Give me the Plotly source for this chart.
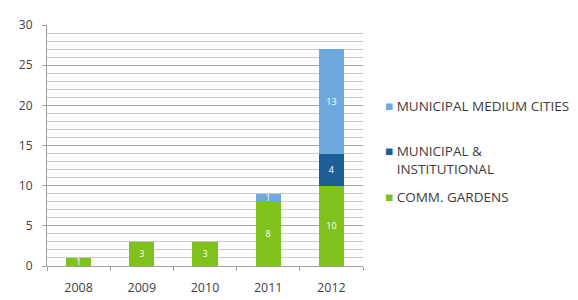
import plotly.graph_objects as go

years = ["2008", "2009", "2010", "2011", "2012"]
comm_gardens = [1, 3, 3, 8, 10]
municipal_institutional = [0, 0, 0, 0, 4]
municipal_medium = [0, 0, 0, 1, 13]

names = ["COMM. GARDENS", "MUNICIPAL &<br>INSTITUTIONAL", "MUNICIPAL MEDIUM CITIES"]
colors = ["#80C21C", "#1D5E98", "#6EA9DE"]
series = [comm_gardens, municipal_institutional, municipal_medium]
legend_ids = ["legend3", "legend2", "legend"]

fig = go.Figure()
for n, c, v in zip(names, colors, series):
    fig.add_trace(go.Bar(
        x=years, y=v, name=n.replace("<br>", " "),
        marker=dict(color=c, line=dict(width=0)),
        text=[str(x) if x > 0 else "" for x in v],
        textposition="inside", insidetextanchor="middle", textangle=0,
        textfont=dict(color="white", size=9, family="Open Sans"),
        showlegend=False,
    ))

sq = '<span style="color:{}">■</span> '
blank = '<span style="color:rgba(0,0,0,0)">■</span> '
for n, c, lid in zip(names, colors, legend_ids):
    label = sq.format(c) + n.replace("<br>", "<br>" + blank)
    fig.add_trace(go.Scatter(
        x=[None], y=[None], mode="markers", name=label,
        marker=dict(symbol="square", size=1, color="rgba(0,0,0,0)"),
        legend=lid, showlegend=True,
    ))

ox, oy = 8, 8  # page body offset
L, R, T, B = 47 - ox, 363 - ox, 16 - oy, 266 - oy
W, H = 578, 300
pw, ph = R - L, B - T

def lx(px):
    return (px - ox - L) / pw

def ly(py):
    return (B - (py - oy)) / ph

legfont = dict(size=13.5, color="#3c3c3c", family="Open Sans")
common = dict(xanchor="left", yanchor="middle", font=legfont, itemwidth=30,
              bgcolor="rgba(0,0,0,0)")

fig.update_layout(
    barmode="stack", bargap=0.6,
    width=W, height=H,
    margin=dict(l=L, r=W - R, t=T, b=H - B),
    plot_bgcolor="white", paper_bgcolor="white",
    font=dict(family="Open Sans", color="#404040", size=10),
    showlegend=True,
    legend=dict(x=lx(345), y=ly(100), **common),
    legend2=dict(x=lx(345), y=ly(156), **common),
    legend3=dict(x=lx(345), y=ly(194), **common),
    uniformtext=dict(minsize=6, mode="show"),
    hovermode=False,
)
fig.update_yaxes(range=[0, 30], tickvals=[0, 5, 10, 15, 20, 25, 30],
                 showgrid=True, gridcolor="#a4a4a4", gridwidth=1,
                 minor=dict(dtick=1, showgrid=True, gridcolor="#c8c8c8", gridwidth=1),
                 showline=True, linecolor="#a0a0a0", linewidth=1,
                 ticks="outside", ticklen=4, tickcolor="#a0a0a0",
                 ticklabelstandoff=7, ticklabeloverflow="allow",
                 tickfont=dict(size=12, color="#404040"), zeroline=False)
fig.update_xaxes(showline=True, linecolor="#a0a0a0", linewidth=1,
                 ticks="outside", tickson="boundaries", ticklen=4, tickcolor="#a0a0a0",
                 ticklabelstandoff=10, ticklabeloverflow="allow",
                 tickfont=dict(size=12.5, color="#404040"), showgrid=False)

fig.write_html("out.html")
